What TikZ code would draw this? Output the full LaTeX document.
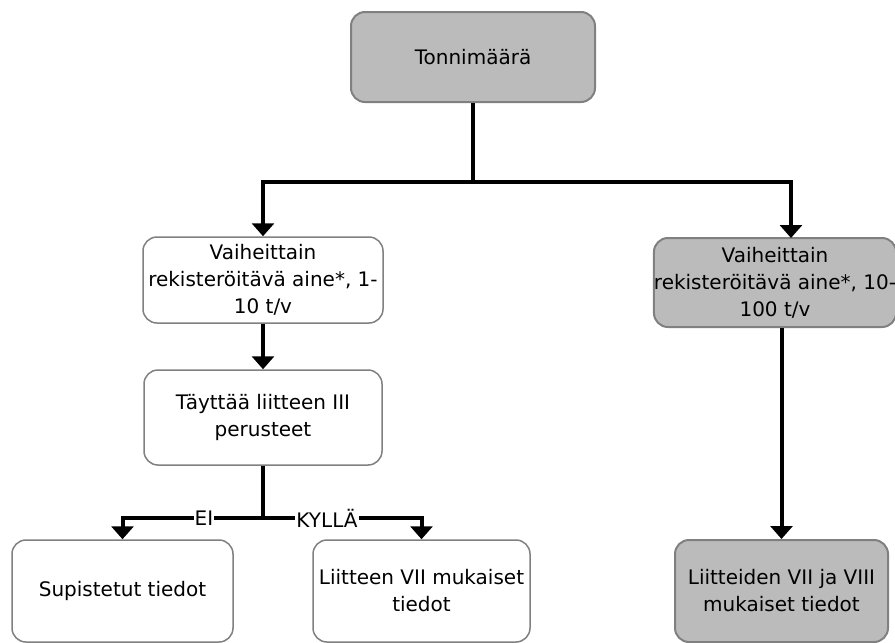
\documentclass[tikz,border=0pt]{standalone}
\usepackage{fontspec}
\setmainfont{DejaVu Sans}
\usetikzlibrary{arrows.meta}
\definecolor{boxgray}{RGB}{187,187,187}
\definecolor{edgegray}{RGB}{128,128,128}
\begin{document}
\begin{tikzpicture}[x=1pt,y=-1pt,
  box/.style={draw=edgegray, line width=1.5pt, rounded corners=14pt, inner sep=0pt,
    align=center, font=\fontsize{20}{27}\selectfont},
  whitebox/.style={box, fill=white},
  graybox/.style={box, fill=boxgray, line width=2pt},
  conn/.style={line width=4pt, -{Triangle[width=22pt,length=13pt]}},
  plainconn/.style={line width=4pt},
  lbl/.style={fill=white, inner sep=1pt, font=\fontsize{20}{22}\selectfont}]
\useasboundingbox (0,0) rectangle (895,643);

% boxes
\node[graybox, minimum width=244pt, minimum height=90pt] (top) at (473,57) {Tonnimäärä};
\node[whitebox, minimum width=240pt, minimum height=86pt] (b1) at (263,280)
  {Vaiheittain\\rekisteröitävä aine*, 1-\\10 t/v};
\node[whitebox, minimum width=238pt, minimum height=95pt] (b2) at (263,417.5)
  {Täyttää liitteen III\\perusteet};
\node[graybox, minimum width=236pt, minimum height=89pt] (r1) at (775,282.5)
  {Vaiheittain\\rekisteröitävä aine*, 10-\\100 t/v};
\node[whitebox, minimum width=221pt, minimum height=102pt] (s) at (122.5,591)
  {Supistetut tiedot};
\node[whitebox, minimum width=217pt, minimum height=102pt] (k) at (421.5,591)
  {Liitteen VII mukaiset\\tiedot};
\node[graybox, minimum width=213pt, minimum height=102pt] (r2) at (781.5,591)
  {Liitteiden VII ja VIII\\mukaiset tiedot};

% junctions
\coordinate (j1) at (473,182);
\coordinate (j2) at (263,518);
\coordinate (r1in) at (791,238);

% connectors
\draw[plainconn] (top.south) -- (j1);
\draw[conn] (j1) -| (b1.north);
\draw[conn] (j1) -| (r1in);
\draw[conn] (b1.south) -- (b2.north);
\draw[plainconn] (b2.south) -- (j2);
\draw[conn] (j2) -| (s.north);
\draw[conn] (j2) -| (k.north);
\draw[conn] (r1.south -| r2.north) -- (r2.north);

% branch labels
\node[lbl] (ei) at (204,518) {EI};
\node[lbl] (kylla) at (327,518) {KYLLÄ};
\end{tikzpicture}
\end{document}
